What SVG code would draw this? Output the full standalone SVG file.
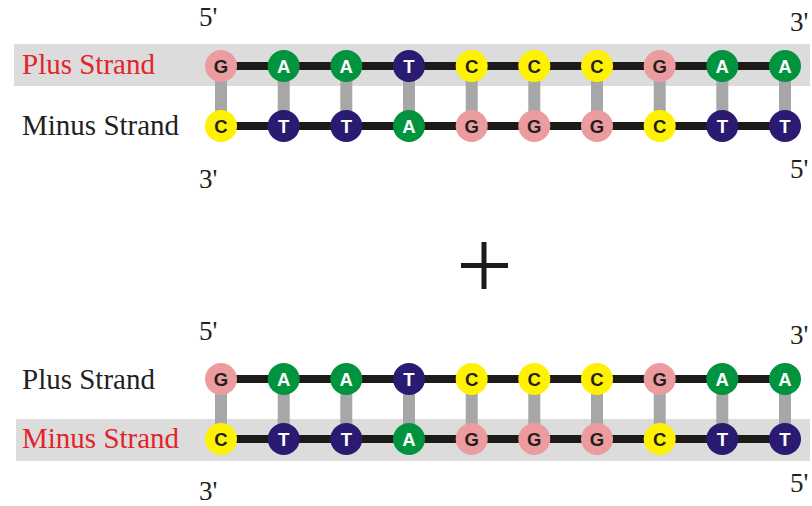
<svg xmlns="http://www.w3.org/2000/svg" width="812" height="506" viewBox="0 0 812 506">
  <style>
    .band { fill: #dcdcdc; }
    .label { font-family: "Liberation Serif", "Times New Roman", serif; font-size: 29px; fill: #231f20; }
    .label.hi { fill: #e2242b; }
    .end { font-family: "Liberation Serif", "Times New Roman", serif; font-size: 27px; fill: #231f20; }
    .backbone { stroke: #1e1a17; stroke-width: 8; fill: none; }
    .rung { stroke: #a7a7a7; stroke-width: 12; fill: none; }
    .base text { font-family: "Liberation Sans", Arial, sans-serif; font-weight: bold; font-size: 18.5px; text-anchor: middle; }
    .G circle { fill: #ec9c9f; } .G text { fill: #231f20; }
    .C circle { fill: #fff200; } .C text { fill: #231f20; }
    .A circle { fill: #00943f; } .A text { fill: #ffffff; }
    .T circle { fill: #2a1a72; } .T text { fill: #ffffff; }
    .plus { stroke: #1e1a17; stroke-width: 5; }
  </style>
  <defs>
    <g id="bG" class="base G"><circle r="16"/><text y="6.6">G</text></g>
    <g id="bC" class="base C"><circle r="16"/><text y="6.6">C</text></g>
    <g id="bA" class="base A"><circle r="16"/><text y="6.6">A</text></g>
    <g id="bT" class="base T"><circle r="16"/><text y="6.6">T</text></g>
    <!-- one duplex: rungs, two backbones, then the bases on top -->
    <g id="duplexLines">
      <g class="rung">
        <line x1="221" y1="66" x2="221" y2="126"/>
        <line x1="283.7" y1="66" x2="283.7" y2="126"/>
        <line x1="346.3" y1="66" x2="346.3" y2="126"/>
        <line x1="409" y1="66" x2="409" y2="126"/>
        <line x1="471.7" y1="66" x2="471.7" y2="126"/>
        <line x1="534.3" y1="66" x2="534.3" y2="126"/>
        <line x1="597" y1="66" x2="597" y2="126"/>
        <line x1="659.7" y1="66" x2="659.7" y2="126"/>
        <line x1="722.3" y1="66" x2="722.3" y2="126"/>
        <line x1="785" y1="66" x2="785" y2="126"/>
      </g>
      <line class="backbone" x1="221" y1="66" x2="785" y2="66"/>
      <line class="backbone" x1="221" y1="126" x2="785" y2="126"/>
    </g>
    <g id="plusBases">
      <use href="#bG" x="221" y="66"/>
      <use href="#bA" x="283.7" y="66"/>
      <use href="#bA" x="346.3" y="66"/>
      <use href="#bT" x="409" y="66"/>
      <use href="#bC" x="471.7" y="66"/>
      <use href="#bC" x="534.3" y="66"/>
      <use href="#bC" x="597" y="66"/>
      <use href="#bG" x="659.7" y="66"/>
      <use href="#bA" x="722.3" y="66"/>
      <use href="#bA" x="785" y="66"/>
    </g>
    <g id="minusBases">
      <use href="#bC" x="221" y="126"/>
      <use href="#bT" x="283.7" y="126"/>
      <use href="#bT" x="346.3" y="126"/>
      <use href="#bA" x="409" y="126"/>
      <use href="#bG" x="471.7" y="126"/>
      <use href="#bG" x="534.3" y="126"/>
      <use href="#bG" x="597" y="126"/>
      <use href="#bC" x="659.7" y="126"/>
      <use href="#bT" x="722.3" y="126"/>
      <use href="#bT" x="785" y="126"/>
    </g>
  </defs>

  <!-- upper duplex: plus strand highlighted -->
  <g id="duplex-top">
    <rect class="band" x="14" y="44" width="796" height="42"/>
    <text class="label hi" x="22" y="74">Plus Strand</text>
    <text class="label" x="22" y="135">Minus Strand</text>
    <text class="end" x="199" y="26">5'</text>
    <text class="end" x="790" y="31">3'</text>
    <text class="end" x="199" y="188">3'</text>
    <text class="end" x="790" y="178">5'</text>
    <g id="connectors-top"><use href="#duplexLines"/></g>
    <g id="plus-strand-top"><use href="#plusBases"/></g>
    <g id="minus-strand-top"><use href="#minusBases"/></g>
  </g>

  <!-- plus sign -->
  <g id="combine">
    <line class="plus" x1="484" y1="242" x2="484" y2="289"/>
    <line class="plus" x1="461" y1="265.5" x2="508" y2="265.5"/>
  </g>

  <!-- lower duplex: minus strand highlighted -->
  <g id="duplex-bottom">
    <rect class="band" x="16" y="419" width="794" height="42"/>
    <text class="label" x="22" y="389">Plus Strand</text>
    <text class="label hi" x="22" y="448">Minus Strand</text>
    <text class="end" x="199" y="340">5'</text>
    <text class="end" x="790" y="344">3'</text>
    <text class="end" x="199" y="500">3'</text>
    <text class="end" x="790" y="492">5'</text>
    <g transform="translate(0,313)">
      <g id="connectors-bottom"><use href="#duplexLines"/></g>
      <g id="plus-strand-bottom"><use href="#plusBases"/></g>
      <g id="minus-strand-bottom"><use href="#minusBases"/></g>
    </g>
  </g>
</svg>
